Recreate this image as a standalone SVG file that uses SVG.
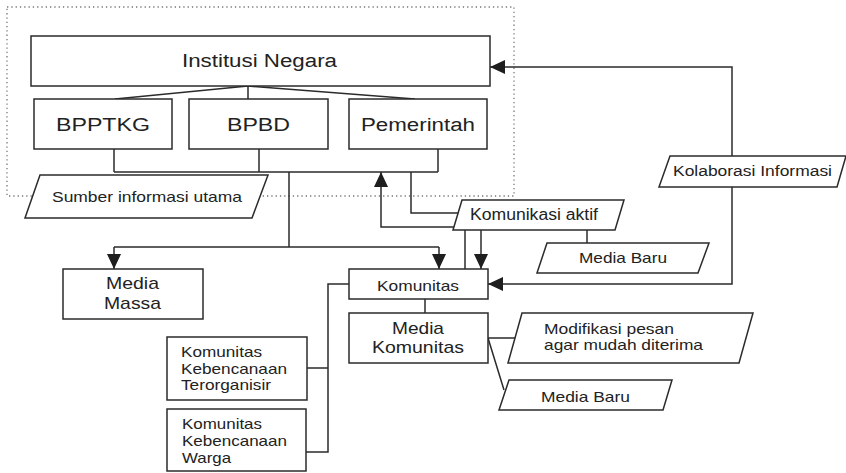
<svg xmlns="http://www.w3.org/2000/svg" width="846" height="473" viewBox="0 0 846 473">
<style>
.box{fill:#fff;stroke:#2b2b2b;stroke-width:1.5}
.ln{fill:none;stroke:#2b2b2b;stroke-width:1.5}
.t{font-family:"Liberation Sans",Arial,sans-serif;fill:#222}
.dot{fill:none;stroke:#777;stroke-width:1.3;stroke-dasharray:1.3 3}
</style>
<defs>
<marker id="ah" viewBox="0 0 15 14" refX="15" refY="7" markerWidth="15" markerHeight="14" markerUnits="userSpaceOnUse" orient="auto">
<path d="M0,0 L15,7 L0,14 z" fill="#1e1e1e"/>
</marker>
</defs>
<rect width="846" height="473" fill="#fff"/>
<rect class="dot" x="7" y="7" width="507" height="189"/>
<g id="connectors">
<path class="ln" d="M248,86 L115,99 M248,86 V99 M248,86 L415,99"/>
<path class="ln" d="M114,149 V172 M259,149 V172 M438,149 V172 M114,172 H438"/>
<path class="ln" d="M289,172 V247 M114,247 H439"/>
<path class="ln" d="M114,247 V269" marker-end="url(#ah)"/>
<path class="ln" d="M439,247 V269" marker-end="url(#ah)"/>
<path class="ln" d="M454,227 H381 V172" marker-end="url(#ah)"/>
<path class="ln" d="M411,172 V213 H458"/>
<path class="ln" d="M465,230 V269"/>
<path class="ln" d="M481,230 V269" marker-end="url(#ah)"/>
<path class="ln" d="M587,230 V243"/>
<path class="ln" d="M732,156 V67 H490" marker-end="url(#ah)"/>
<path class="ln" d="M732,187 V284 H488" marker-end="url(#ah)"/>
<path class="ln" d="M425,299 V313"/>
<path class="ln" d="M349,284 H328 V452 H306 M328,368 H307"/>
<path class="ln" d="M488,338 H515 M488,338 L504,390"/>
</g>
<g id="institusi"><rect class="box" x="31" y="36" width="459" height="50"/>
<text class="t" x="182" y="67" font-size="18" textLength="155" lengthAdjust="spacingAndGlyphs">Institusi Negara</text></g>
<g id="bpptkg"><rect class="box" x="34" y="99" width="138" height="50"/>
<text class="t" x="56" y="131" font-size="18" textLength="94" lengthAdjust="spacingAndGlyphs">BPPTKG</text></g>
<g id="bpbd"><rect class="box" x="189" y="99" width="139" height="50"/>
<text class="t" x="227" y="131" font-size="18" textLength="63" lengthAdjust="spacingAndGlyphs">BPBD</text></g>
<g id="pemerintah"><rect class="box" x="349" y="99" width="138" height="50"/>
<text class="t" x="361" y="131" font-size="18" textLength="114" lengthAdjust="spacingAndGlyphs">Pemerintah</text></g>
<g id="sumber"><polygon class="box" points="40,175 268,175 252,218 25,218"/>
<text class="t" x="52" y="202" font-size="15" textLength="190" lengthAdjust="spacingAndGlyphs">Sumber informasi utama</text></g>
<g id="komunikasi-aktif"><polygon class="box" points="462,200 624,200 615,230 453,230"/>
<text class="t" x="470" y="220" font-size="16" textLength="128" lengthAdjust="spacingAndGlyphs">Komunikasi aktif</text></g>
<g id="media-baru-1"><polygon class="box" points="547,243 709,243 698,273 537,273"/>
<text class="t" x="579" y="263" font-size="15" textLength="88" lengthAdjust="spacingAndGlyphs">Media Baru</text></g>
<g id="kolaborasi"><polygon class="box" points="670,156 846,156 837,187 659,187"/>
<text class="t" x="673" y="176" font-size="15.5" textLength="159" lengthAdjust="spacingAndGlyphs">Kolaborasi Informasi</text></g>
<g id="media-massa"><rect class="box" x="63" y="269" width="140" height="50"/>
<text class="t" x="106" y="289" font-size="17" textLength="53" lengthAdjust="spacingAndGlyphs">Media</text>
<text class="t" x="104" y="309" font-size="17" textLength="57" lengthAdjust="spacingAndGlyphs">Massa</text></g>
<g id="komunitas"><rect class="box" x="349" y="269" width="139" height="30"/>
<text class="t" x="377" y="291" font-size="15" textLength="82" lengthAdjust="spacingAndGlyphs">Komunitas</text></g>
<g id="media-komunitas"><rect class="box" x="349" y="313" width="139" height="50"/>
<text class="t" x="392" y="334" font-size="17" textLength="52" lengthAdjust="spacingAndGlyphs">Media</text>
<text class="t" x="372" y="353" font-size="17" textLength="92" lengthAdjust="spacingAndGlyphs">Komunitas</text></g>
<g id="modifikasi"><polygon class="box" points="522,313 753,313 739,363 508,363"/>
<text class="t" x="544" y="334" font-size="15" textLength="130" lengthAdjust="spacingAndGlyphs">Modifikasi pesan</text>
<text class="t" x="544" y="350" font-size="15" textLength="159" lengthAdjust="spacingAndGlyphs">agar mudah diterima</text></g>
<g id="media-baru-2"><polygon class="box" points="509,380 672,380 663,410 499,410"/>
<text class="t" x="541" y="402" font-size="15" textLength="89" lengthAdjust="spacingAndGlyphs">Media Baru</text></g>
<g id="kk-terorganisir"><rect class="box" x="167" y="337" width="140" height="63"/>
<text class="t" x="181" y="357" font-size="15" textLength="81" lengthAdjust="spacingAndGlyphs">Komunitas</text>
<text class="t" x="181" y="374" font-size="15" textLength="106" lengthAdjust="spacingAndGlyphs">Kebencanaan</text>
<text class="t" x="181" y="390" font-size="15" textLength="90" lengthAdjust="spacingAndGlyphs">Terorganisir</text></g>
<g id="kk-warga"><rect class="box" x="167" y="409" width="139" height="62"/>
<text class="t" x="182" y="429" font-size="15" textLength="80" lengthAdjust="spacingAndGlyphs">Komunitas</text>
<text class="t" x="182" y="446" font-size="15" textLength="105" lengthAdjust="spacingAndGlyphs">Kebencanaan</text>
<text class="t" x="182" y="463" font-size="15" textLength="49" lengthAdjust="spacingAndGlyphs">Warga</text></g>
</svg>
